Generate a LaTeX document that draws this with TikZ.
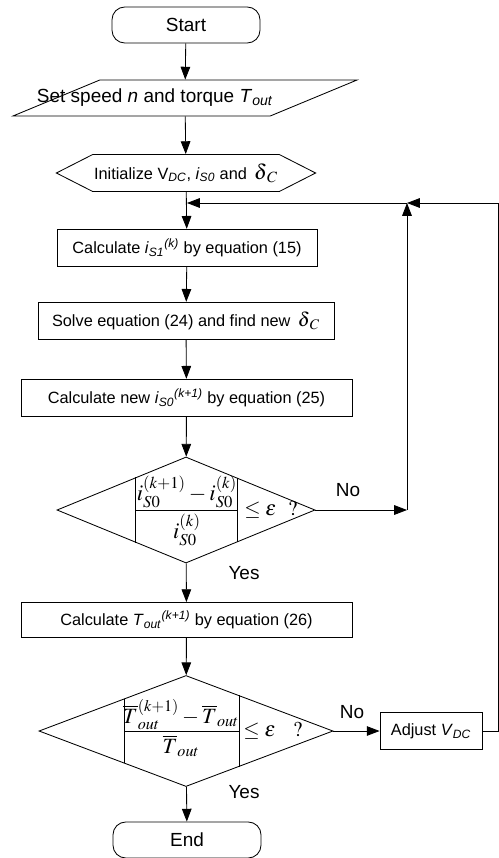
\documentclass[tikz,border=0pt]{standalone}
\usepackage{mathptmx}
\usepackage[no-math]{fontspec}
\setmainfont{Liberation Sans}
\usetikzlibrary{%
    shapes,%
    arrows.meta,%
    positioning,%
    calc%
}
\tikzset{%
    txt/.style = {font = \fontsize{11.6}{13.5}\selectfont, inner sep = 1pt},
    big/.style = {font = \fontsize{13.5}{15}\selectfont, inner sep = 1pt},
    base/.style = {txt, draw, line width = 0.6pt},
    terminal/.style = {base, big, rectangle, rounded corners = 0.32cm, minimum width = 3.7cm, minimum height = 0.9cm},
    inout/.style = {base, trapezium, trapezium left angle = 63, trapezium right angle = 117,
        trapezium stretches = true, minimum width = 8.6cm, minimum height = 0.9cm},
    prep/.style = {base, signal, signal to = east and west, signal pointer angle = 54,
        minimum width = 6.45cm, minimum height = 0.925cm},
    process/.style = {base, rectangle, minimum height = 0.94cm},
    decision/.style = {base, diamond, inner sep = 0pt},
    mth/.style = {font = \fontsize{16}{18}\selectfont, inner sep = 1pt},
    arr/.style = {line width = 0.6pt, -{Triangle[length = 3.2mm, width = 2.4mm]}}
}

\begin{document}
\begin{tikzpicture}[x = 0.025cm, y = -0.025cm, line width = 0.6pt]
    \useasboundingbox (0,0) rectangle (499,858);

    % Define the chain of blocks
    \node[terminal] (start) at (186,25) {Start};
    \node[inout] (setin) at (185,98) {};
    \node[txt, font = \fontsize{13.5}{15}\selectfont] (setintxt) at (155,98) {Set speed \textit{n} and torque \textit{T}\textsubscript{\textit{out}}};
    \node[prep] (init) at (186,173) {Initialize V\textsubscript{\textit{DC}}, \textit{i}\textsubscript{\textit{S0}} and\, {\fontsize{15}{16}\selectfont$\delta_{\mkern3mu C}$}};
    \node[process, minimum width = 6.5cm] (isone) at (187,248) {Calculate \textit{i}\textsubscript{\textit{S1}}\textsuperscript{\textit{(k)}} by equation (15)};
    \node[process, minimum width = 7.4cm] (solve) at (186,321) {Solve equation (24) and find new\, {\fontsize{14}{16}\selectfont$\delta_{\mkern3mu C}$}};
    \node[process, minimum width = 8.275cm] (iszero) at (186.5,398) {Calculate new \textit{i}\textsubscript{\textit{S0}}\textsuperscript{\textit{(k+1)}} by equation (25)};
    \node[decision, minimum width = 6.45cm, minimum height = 2.65cm] (chki) at (186,510) {};
    \node[process, minimum width = 8.275cm, minimum height = 0.875cm] (tout) at (186.5,620) {Calculate \textit{T}\textsubscript{\textit{out}}\textsuperscript{\textit{(k+1)}} by equation (26)};
    \node[decision, minimum width = 7.35cm, minimum height = 2.775cm] (chkt) at (186,731) {};
    \node[process, minimum width = 2.55cm, minimum height = 0.925cm] (adjust) at (431,731) {Adjust \textit{V}\textsubscript{\textit{DC}}};
    \node[terminal] (stop) at (187,840) {End};

    % Define the split lines inside the decisions
    \coordinate (ia) at ($(chki.north)!0.39!(chki.west)$);
    \coordinate (ib) at ($(chki.south)!0.39!(chki.west)$);
    \coordinate (ic) at ($(chki.north)!0.4!(chki.east)$);
    \coordinate (id) at ($(chki.south)!0.4!(chki.east)$);
    \coordinate (ta) at ($(chkt.north)!0.42!(chkt.west)$);
    \coordinate (tb) at ($(chkt.south)!0.42!(chkt.west)$);
    \coordinate (tc) at ($(chkt.north)!0.36!(chkt.east)$);
    \coordinate (td) at ($(chkt.south)!0.36!(chkt.east)$);
    \draw (ia) -- (ib) (ic) -- (id);
    \draw (ta) -- (tb) (tc) -- (td);
    \draw ($(ia)!0.5!(ib)$) -- ($(ic)!0.5!(id)$);
    \draw ($(ta)!0.5!(tb)$) -- ($(tc)!0.5!(td)$);

    % Fractions and tests
    \node[mth, anchor = south] (inum) at (187,510) {$i_{S0}^{(k+1)} - i_{S0}^{(k)}$};
    \node[mth, anchor = north] (iden) at (187,512) {$i_{S0}^{(k)}$};
    \node[mth, font = \fontsize{15}{16}\selectfont] (itest) at (271,510) {$\leq \varepsilon\ \ ?$};
    \node[mth, font = \fontsize{15.5}{17}\selectfont, anchor = south] (tnum) at (181,731) {$\overline{T}_{out}^{(k+1)} - \overline{T}_{out}$};
    \node[mth, font = \fontsize{15.5}{17}\selectfont, anchor = north] (tden) at (181,733) {$\overline{T}_{out}$};
    \node[mth, font = \fontsize{15}{16}\selectfont] (ttest) at (273,731) {$\leq \varepsilon\ \ \ ?$};

    % Branch labels
    \node[big] (ino) at (348,490) {No};
    \node[big] (iyes) at (244,573) {Yes};
    \node[big] (tno) at (352,712) {No};
    \node[big] (tyes) at (244,792) {Yes};

    % Define the loop corners
    \coordinate (join) at (187,203);
    \coordinate (lpa) at (407,203);
    \coordinate (lpb) at (407,510);
    \coordinate (rta) at (498.6,203);
    \coordinate (rtb) at (498.6,731);

    % Draw the connectors
    \draw[arr] (start) -- (setin);
    \draw[arr] (setin) -- (init);
    \draw[arr] (init) -- (isone);
    \draw[arr] (isone) -- (solve);
    \draw[arr] (solve) -- (iszero);
    \draw[arr] (iszero) -- (chki);
    \draw[arr] (chki) -- (tout);
    \draw[arr] (tout) -- (chkt);
    \draw[arr] (chkt) -- (stop);
    \draw[arr] (chkt) -- (adjust);
    \draw[arr] (chki.east) -- (lpb);
    \draw[arr] (lpb) -- (lpa);
    \draw[arr] (adjust.east) -- (rtb) -- (rta) -- (lpa);
    \draw[arr] (lpa) -- (join);
\end{tikzpicture}
\end{document}
